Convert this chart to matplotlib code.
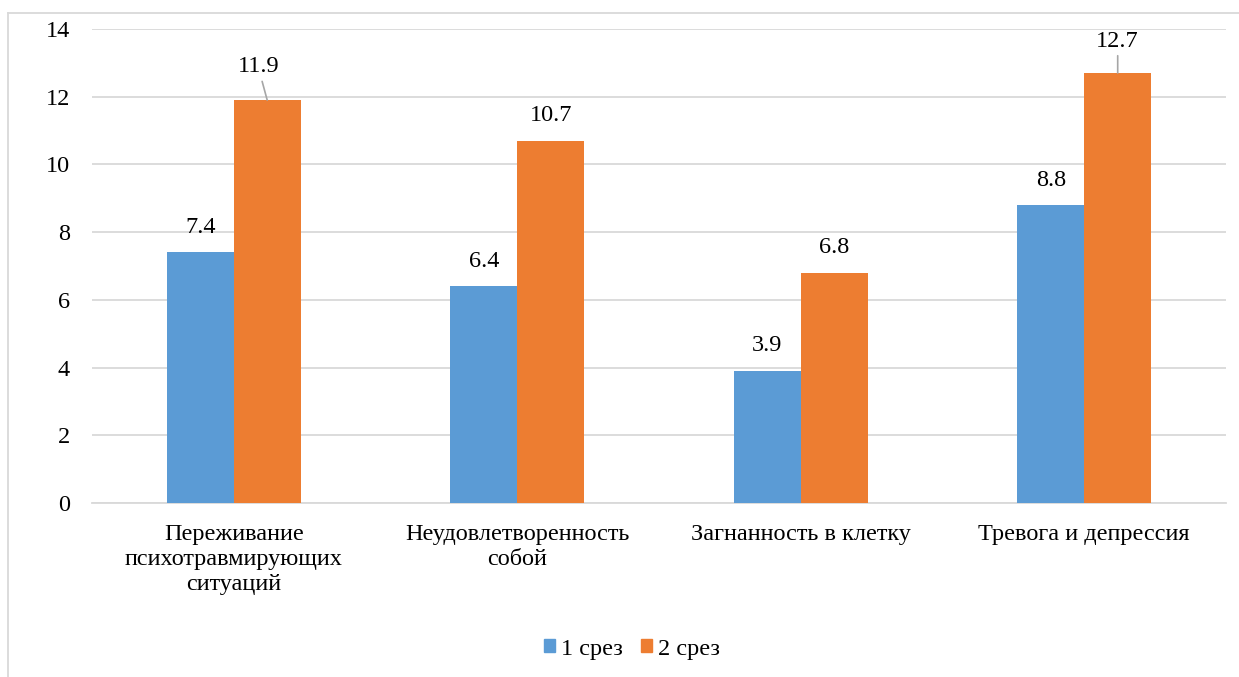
import matplotlib
matplotlib.use("Agg")
import matplotlib.pyplot as plt
from matplotlib.lines import Line2D
from matplotlib.patches import Patch
import numpy as np

plt.rcParams['font.family'] = ['Liberation Serif', 'DejaVu Serif']

categories = ["Переживание\nпсихотравмирующих\nситуаций",
              "Неудовлетворенность\nсобой",
              "Загнанность в клетку",
              "Тревога и депрессия"]
series_names = ["1 срез", "2 срез"]
srez1 = [7.4, 6.4, 3.9, 8.8]
srez2 = [11.9, 10.7, 6.8, 12.7]
y_ticks = [0, 2, 4, 6, 8, 10, 12, 14]

BLUE = "#5B9BD5"
ORANGE = "#ED7D31"
GRID = "#D9D9D9"
FS = 17.5

W, H = 1239, 677
fig = plt.figure(figsize=(W / 100, H / 100), dpi=100)
ax = fig.add_axes([92 / W, 1 - 503 / H, (1226 - 92) / W, (503 - 29) / H])

x = np.arange(len(categories))
bw = 0.236
ax.bar(x - bw / 2, srez1, bw, color=BLUE, zorder=3)
ax.bar(x + bw / 2, srez2, bw, color=ORANGE, zorder=3)

ax.set_xlim(-0.5, len(categories) - 0.5)
ax.set_ylim(0, 14)
ax.set_yticks(y_ticks)
ax.set_yticklabels([str(t) for t in y_ticks])
ax.yaxis.grid(True, color=GRID, linewidth=1.3, zorder=0)
ax.set_axisbelow(True)
for s in ["top", "right", "left"]:
    ax.spines[s].set_visible(False)
ax.spines["bottom"].set_color(GRID)
ax.spines["bottom"].set_linewidth(1.3)
ax.tick_params(axis="y", length=0, pad=16, labelsize=FS)
ax.tick_params(axis="x", length=0, pad=15, labelsize=FS)
ax.set_xticks(x)
ax.set_xticklabels(categories, linespacing=1.27)

# value labels
label_style = dict(ha="center", va="center", fontsize=FS, textcoords="offset points")
leader = dict(arrowstyle="-", color="#A6A6A6", lw=1.2, shrinkA=1, shrinkB=0)
for i, v in enumerate(srez1):
    ax.annotate(f"{v:.1f}", (x[i] - bw / 2, v), xytext=(0, 18), **label_style)
for i, v in enumerate(srez2):
    if i == 0:
        ax.annotate(f"{v:.1f}", (x[i] + bw / 2, v), xytext=(-6.5, 24),
                    arrowprops=leader, **label_style)
    elif i == 3:
        ax.annotate(f"{v:.1f}", (x[i] + bw / 2, v), xytext=(0, 23),
                    arrowprops=leader, **label_style)
    else:
        ax.annotate(f"{v:.1f}", (x[i] + bw / 2, v), xytext=(0, 18), **label_style)

# legend
handles = [Patch(color=BLUE), Patch(color=ORANGE)]
fig.legend(handles, series_names, loc="center", bbox_to_anchor=(632 / W, 1 - 649 / H),
           ncol=2, frameon=False, fontsize=FS, handlelength=0.45, handleheight=0.45,
           handletextpad=0.25, columnspacing=0.75)

# chart frame
fx = 8 / W
fy = 1 - 13 / H
fig.add_artist(Line2D([fx, 1], [fy, fy], color=GRID, lw=1.3, transform=fig.transFigure))
fig.add_artist(Line2D([fx, fx], [0, fy], color=GRID, lw=1.3, transform=fig.transFigure))

fig.savefig("out.png", dpi=100, facecolor="white")
